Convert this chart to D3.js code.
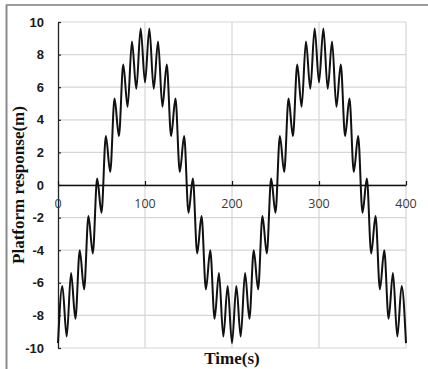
<!DOCTYPE html>
<html>
<head>
<meta charset="utf-8">
<script src="https://cdn.jsdelivr.net/npm/d3@7"></script>
<style>
  html, body { margin: 0; padding: 0; background: #fff; }
  svg { display: block; }
</style>
</head>
<body>
<svg id="chart" width="428" height="369"></svg>
<script>
// Local extrema of the response: troughs every 10 s, peaks in between
const time = [
  0, 5, 10, 15, 20, 25, 30, 35, 40, 45, 50, 55, 60, 65, 70, 75, 80, 85, 90, 95,
  100, 105, 110, 115, 120, 125, 130, 135, 140, 145, 150, 155, 160, 165, 170, 175, 180, 185, 190, 195,
  200, 205, 210, 215, 220, 225, 230, 235, 240, 245, 250, 255, 260, 265, 270, 275, 280, 285, 290, 295,
  300, 305, 310, 315, 320, 325, 330, 335, 340, 345, 350, 355, 360, 365, 370, 375, 380, 385, 390, 395,
  400
];
const response = [
  -9.7, -6.2, -9.3, -5.4, -8.2, -4.0, -6.4, -1.9, -4.2, 0.4, -1.7, 3.0, 0.8, 5.3, 3.0, 7.4, 4.8, 8.8, 5.9, 9.6,
  6.3, 9.6, 5.9, 8.8, 4.8, 7.4, 3.0, 5.3, 0.8, 3.0, -1.7, 0.4, -4.2, -1.9, -6.4, -4.0, -8.2, -5.4, -9.3, -6.2,
  -9.7, -6.2, -9.3, -5.4, -8.2, -4.0, -6.4, -1.9, -4.2, 0.4, -1.7, 3.0, 0.8, 5.3, 3.0, 7.4, 4.8, 8.8, 5.9, 9.6,
  6.3, 9.6, 5.9, 8.8, 4.8, 7.4, 3.0, 5.3, 0.8, 3.0, -1.7, 0.4, -4.2, -1.9, -6.4, -4.0, -8.2, -5.4, -9.3, -6.2,
  -9.7
];
const xTicks = [0, 100, 200, 300, 400];
const yTicks = [-10, -8, -6, -4, -2, 0, 2, 4, 6, 8, 10];
const xTitle = "Time(s)";
const yTitle = "Platform response(m)";

(function () {
const svg = d3.select("#chart");
const W = 428, H = 369;
const pL = 58, pR = 406, pT = 22, pB = 348;

const x = d3.scaleLinear().domain([0, 400]).range([pL, pR]);
const y = d3.scaleLinear().domain([-10, 10]).range([pB, pT]);

// outer frame (top and left only, as cropped)
svg.append("line").attr("x1", 6.5).attr("x2", W).attr("y1", 5).attr("y2", 5)
  .attr("stroke", "#7a7a7a").attr("stroke-width", 1.5);
svg.append("line").attr("x1", 6.5).attr("x2", 6.5).attr("y1", 4.5).attr("y2", H)
  .attr("stroke", "#8a8a8a").attr("stroke-width", 2);

// gridlines
const grid = svg.append("g");
grid.selectAll("line.h").data(yTicks).join("line").attr("class", "h")
  .attr("x1", pL).attr("x2", pR)
  .attr("y1", d => y(d)).attr("y2", d => y(d))
  .attr("stroke", "#d6d6d6").attr("stroke-width", 1.2);
grid.selectAll("line.v").data(xTicks.filter(d => d > 0)).join("line").attr("class", "v")
  .attr("y1", pT).attr("y2", pB)
  .attr("x1", d => x(d)).attr("x2", d => x(d))
  .attr("stroke", "#d6d6d6").attr("stroke-width", 1.2);

// y axis (ticks pointing inward)
const yAxis = svg.append("g").attr("transform", `translate(${pL},0)`)
  .call(d3.axisRight(y).tickValues(yTicks).tickSize(3).tickSizeOuter(0).tickFormat(""));
yAxis.select(".domain").attr("stroke", "#222").attr("stroke-width", 1.3);
yAxis.selectAll(".tick line").attr("stroke", "#222").attr("stroke-width", 1.2);

svg.append("g").selectAll("text").data(yTicks).join("text")
  .attr("x", 44).attr("y", d => y(d))
  .attr("dy", "0.36em")
  .attr("text-anchor", "end")
  .attr("font-family", "Liberation Sans, Arial, sans-serif")
  .attr("font-weight", "bold")
  .attr("font-size", 13)
  .attr("fill", "#1a1a1a")
  .text(d => d);

// x axis along zero line (ticks pointing up)
const xAxis = svg.append("g").attr("transform", `translate(0,${y(0)})`)
  .call(d3.axisTop(x).tickValues(xTicks).tickSize(4).tickSizeOuter(0).tickFormat(""));
xAxis.select(".domain").attr("stroke", "#111").attr("stroke-width", 1.6);
xAxis.selectAll(".tick line").attr("stroke", "#111").attr("stroke-width", 1.2);

svg.append("g").selectAll("text").data(xTicks).join("text")
  .attr("x", d => x(d)).attr("y", y(0) + 23)
  .attr("text-anchor", "middle")
  .attr("font-family", "Open Sans, sans-serif")
  .attr("font-size", 12.5)
  .attr("fill", "#3a3a3a")
  .text(d => d);

// response curve
const pts = time.map((t, i) => [t, response[i]]);
const line = d3.line().x(d => x(d[0])).y(d => y(d[1])).curve(d3.curveMonotoneX);
svg.append("path").datum(pts)
  .attr("d", line)
  .attr("fill", "none")
  .attr("stroke", "#111")
  .attr("stroke-width", 2)
  .attr("stroke-linejoin", "round");

// titles
svg.append("text")
  .attr("x", (pL + pR) / 2).attr("y", 364)
  .attr("text-anchor", "middle")
  .attr("font-family", "Liberation Serif, Times New Roman, serif")
  .attr("font-weight", "bold")
  .attr("font-size", 17)
  .attr("fill", "#111")
  .text(xTitle);

svg.append("text")
  .attr("transform", `translate(24,${(pT + pB) / 2}) rotate(-90)`)
  .attr("text-anchor", "middle")
  .attr("font-family", "Liberation Serif, Times New Roman, serif")
  .attr("font-weight", "bold")
  .attr("font-size", 17)
  .attr("fill", "#111")
  .text(yTitle);
})();
</script>
</body>
</html>
